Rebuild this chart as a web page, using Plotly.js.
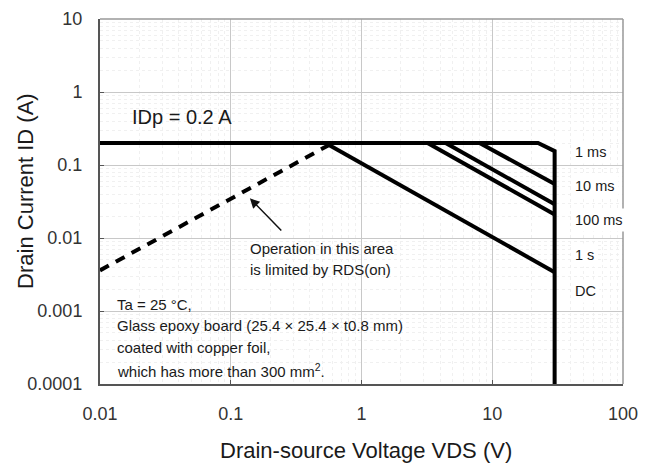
<!DOCTYPE html>
<html>
<head>
<meta charset="utf-8">
<script src="https://cdn.plot.ly/plotly-3.0.1.min.js"></script>
<style>html,body{margin:0;padding:0;background:#fff;}#chart{width:656px;height:469px;}</style>
</head>
<body>
<div id="chart"></div>
<script>
// Safe operating area boundary (IDp limit, power/derating corner, VDSS)
var limitV = [0.01, 22.4, 30, 30];
var limitI = [0.2, 0.2, 0.155, 0.0001];
// Pulse-width lines
var ms1V = [8.0, 30];   var ms1I = [0.2, 0.055];
var ms10V = [4.4, 30];  var ms10I = [0.2, 0.029];
var ms100V = [3.2, 30]; var ms100I = [0.2, 0.021];
var s1V = [0.53, 30];   var s1I = [0.2, 0.0034];
// RDS(on) limited region (dashed)
var rdsV = [0.01, 0.57];
var rdsI = [0.0036, 0.19];
// Arrow (head, tail)
var arrowHead = [0.14, 0.035];
var arrowTail = [0.25, 0.0121];
// Tick labels
var xTickVals = [0.01, 0.1, 1, 10, 100];
var xTickText = ['0.01', '0.1', '1', '10', '100'];
var yTickVals = [0.0001, 0.001, 0.01, 0.1, 1, 10];
var yTickText = ['0.0001', '0.001', '0.01', '0.1', '1', '10'];
var curveLabels = ['1 ms', '10 ms', '100 ms', '1 s', 'DC'];
var curveLabelY = [0.636, 0.542, 0.449, 0.353, 0.255];
var noteLines = ['Ta = 25 \u00B0C,', 'Glass epoxy board (25.4 \u00D7 25.4 \u00D7 t0.8 mm)', 'coated with copper foil,', 'which has more than 300 mm<sup>2</sup>.'];
var noteY = [0.219, 0.159, 0.101, 0.038];

var lineStyle = {color: '#000', width: 4};
function tr(x, y, extra) {
  return {x: x, y: y, mode: 'lines', line: Object.assign({}, lineStyle, extra || {}), hoverinfo: 'skip', showlegend: false, cliponaxis: false};
}
var data = [
  tr(limitV, limitI),
  tr(ms1V, ms1I),
  tr(ms10V, ms10I),
  tr(ms100V, ms100I),
  tr(s1V, s1I),
  tr(rdsV, rdsI, {dash: '10px,8px'})
];

var font = 'Liberation Sans, Arial, sans-serif';
var txt = '#1a1a1a';
var annotations = [];
annotations.push({xref: 'paper', yref: 'paper', x: 0.057, y: 0.732, xanchor: 'left', yanchor: 'middle', text: 'IDp = 0.2 A', showarrow: false, font: {size: 20, color: txt, family: font}});
annotations.push({xref: 'paper', yref: 'paper', x: 0.283, y: 0.370, xanchor: 'left', yanchor: 'middle', text: 'Operation in this area', showarrow: false, font: {size: 15, color: txt, family: font}});
annotations.push({xref: 'paper', yref: 'paper', x: 0.283, y: 0.315, xanchor: 'left', yanchor: 'middle', text: 'is limited by RDS(on)', showarrow: false, font: {size: 15, color: txt, family: font}});
for (var i = 0; i < noteLines.length; i++) {
  annotations.push({xref: 'paper', yref: 'paper', x: 0.029, y: noteY[i], xanchor: 'left', yanchor: 'middle', text: noteLines[i], showarrow: false, font: {size: 15, color: txt, family: font}});
}
for (var j = 0; j < curveLabels.length; j++) {
  annotations.push({xref: 'paper', yref: 'paper', x: 0.900, y: curveLabelY[j], xanchor: 'left', yanchor: 'middle', text: curveLabels[j], showarrow: false, bgcolor: '#fff', borderpad: 3, font: {size: 14.5, color: txt, family: font}});
}
annotations.push({xref: 'x', yref: 'y', axref: 'x', ayref: 'y', x: Math.log10(arrowHead[0]), y: Math.log10(arrowHead[1]), ax: Math.log10(arrowTail[0]), ay: Math.log10(arrowTail[1]), text: '', showarrow: true, arrowhead: 2, arrowsize: 1.3, arrowwidth: 1.5, arrowcolor: '#111'});
// Axis titles
annotations.push({xref: 'paper', yref: 'paper', x: 0.509, y: -0.181, xanchor: 'center', yanchor: 'middle', text: 'Drain-source Voltage VDS (V)', showarrow: false, font: {size: 22, color: txt, family: font}});
annotations.push({xref: 'paper', yref: 'paper', x: -0.1415, y: 0.529, xanchor: 'center', yanchor: 'middle', textangle: -90, text: 'Drain Current ID (A)', showarrow: false, font: {size: 22, color: txt, family: font}});

var layout = {
  width: 656, height: 469,
  margin: {l: 100, r: 33, t: 19, b: 85},
  paper_bgcolor: '#fff', plot_bgcolor: '#fff',
  font: {family: font, color: '#222'},
  showlegend: false,
  xaxis: {
    type: 'log', range: [-2, 2],
    tickvals: xTickVals, ticktext: xTickText,
    tickfont: {size: 18, color: '#333'},
    ticks: 'inside', ticklen: 4, tickcolor: '#555',
    ticklabelstandoff: 12,
    showline: true, linecolor: '#555', linewidth: 2,
    showgrid: true, gridcolor: '#c8c8c8', gridwidth: 1,
    minor: {dtick: 'D1', showgrid: true, gridcolor: '#f0f0f0', griddash: 'dot', ticks: ''},
    zeroline: false
  },
  yaxis: {
    type: 'log', range: [-4, 1],
    tickvals: yTickVals, ticktext: yTickText,
    tickfont: {size: 18, color: '#333'},
    ticks: 'inside', ticklen: 4, tickcolor: '#555',
    ticklabelstandoff: 12,
    showline: true, linecolor: '#555', linewidth: 2,
    showgrid: true, gridcolor: '#c8c8c8', gridwidth: 1,
    minor: {dtick: 'D1', showgrid: true, gridcolor: '#f0f0f0', griddash: 'dot', ticks: ''},
    zeroline: false
  },
  shapes: [
    {type: 'line', xref: 'paper', yref: 'paper', x0: 0, x1: 1, y0: 1, y1: 1, line: {color: '#999', width: 1.5}},
    {type: 'line', xref: 'paper', yref: 'paper', x0: 1, x1: 1, y0: 0, y1: 1, line: {color: '#999', width: 1.5}}
  ],
  annotations: annotations
};
Plotly.newPlot('chart', data, layout, {staticPlot: true, displayModeBar: false});
</script>
</body>
</html>
